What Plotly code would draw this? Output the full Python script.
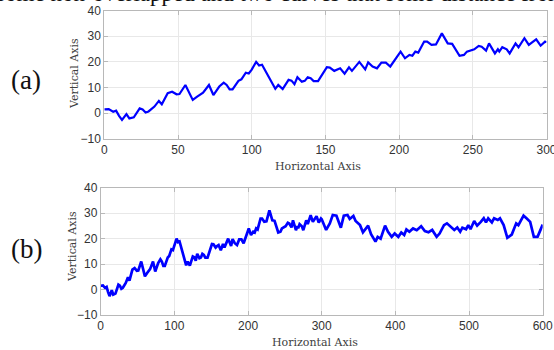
import plotly.graph_objects as go

# one random-walk-like series; panel (a) shows the first 300 samples, panel (b) all 600
x_vals = [0, 3, 6, 8, 10, 12, 15, 17, 20, 24, 26, 28, 30, 32, 34, 37, 39, 43, 45, 46, 49, 51,
          55, 58, 60, 63, 65, 67, 71, 74, 78, 81, 83, 85, 87, 91, 93, 96, 98, 100, 103, 105,
          107, 116, 118, 121, 125, 127, 129, 131, 134, 136, 138, 140, 142, 145, 151, 153, 156,
          158, 160, 163, 166, 168, 171, 173, 177, 179, 182, 185, 188, 191, 194, 197, 201, 204,
          207, 209, 211, 213, 217, 219, 222, 225, 229, 233, 236, 241, 244, 246, 248, 251, 254,
          256, 259, 261, 265, 267, 268, 270, 273, 275, 279, 281, 285, 288, 290, 293, 296, 299,
          300, 306, 311, 315, 320, 326, 330, 335, 338, 343, 346, 352, 356, 363, 367, 373, 376,
          380, 386, 390, 395, 399, 404, 408, 412, 415, 419, 424, 429, 435, 440, 445, 450, 453,
          456, 460, 466, 470, 475, 480, 484, 488, 491, 496, 499, 502, 507, 511, 516, 520, 523,
          526, 531, 534, 539, 542, 547, 552, 558, 564, 567, 574, 578, 583, 588, 593, 600]
y_vals = [1.5, 1.6, 0.6, 1.0, -1.0, -2.6, -0.3, -2.0, -1.6, 1.9, 1.5, 0.3, 0.7, 1.6, 2.6, 4.8,
          3.5, 7.8, 8.2, 8.4, 7.4, 7.5, 11.0, 7.5, 5.2, 6.5, 7.4, 8.0, 11.0, 7.1, 10.4, 11.9,
          11.0, 9.3, 9.3, 12.6, 13.2, 15.8, 15.5, 17.0, 20.0, 18.6, 18.9, 9.5, 11.0, 9.4, 13.0,
          12.7, 11.3, 14.0, 12.3, 12.6, 14.0, 13.6, 12.5, 12.5, 17.9, 17.8, 16.5, 17.1, 17.5,
          15.4, 17.9, 16.5, 18.8, 20.0, 17.1, 19.8, 18.2, 17.5, 19.7, 19.7, 18.2, 20.7, 24.0,
          21.4, 22.7, 22.4, 24.0, 23.6, 27.9, 27.9, 26.6, 26.8, 31.1, 27.2, 27.0, 22.4, 22.7,
          24.0, 24.4, 24.9, 26.2, 25.9, 24.4, 27.2, 23.3, 24.9, 24.0, 25.7, 24.9, 23.3, 27.2,
          25.7, 29.2, 26.6, 27.5, 28.8, 26.3, 27.9, 27.6, 23.4, 26.0, 29.3, 29.0, 24.3, 29.0,
          29.3, 27.7, 28.9, 26.9, 25.3, 22.5, 25.1, 21.7, 18.8, 20.7, 20.0, 25.1, 22.7, 20.7,
          22.0, 20.7, 22.4, 21.4, 23.6, 22.7, 24.0, 23.3, 24.9, 23.0, 22.5, 23.4, 22.0, 20.7,
          22.0, 25.3, 26.0, 24.7, 23.4, 24.4, 22.7, 24.3, 23.7, 25.3, 23.7, 26.9, 25.1, 26.6,
          28.0, 26.4, 28.0, 26.4, 28.0, 27.3, 28.0, 25.3, 20.3, 21.6, 26.0, 25.3, 29.0, 28.0,
          26.6, 20.7, 20.7, 25.5]

xa_top = [x for x in x_vals if x <= 300]
ya_top = y_vals[:len(xa_top)]

panel_labels = ["(a)", "(b)"]
x_title = "Horizontal Axis"
y_title = "Vertical Axis"
top_text = "some non-overlapped and two curves that some distance from"

blue = "#0000ff"
fig = go.Figure()
fig.add_trace(go.Scatter(x=xa_top, y=ya_top, mode="lines", line=dict(color=blue, width=2.2),
                         xaxis="x", yaxis="y", showlegend=False))
fig.add_trace(go.Scatter(x=x_vals, y=y_vals, mode="lines", line=dict(color=blue, width=2.7),
                         xaxis="x2", yaxis="y2", showlegend=False))
# clipped running text from the page above the figure (overlay axis spanning whole page)
fig.add_trace(go.Scatter(x=[281], y=[-5], mode="text", text=[top_text],
                         textposition="middle center", cliponaxis=True,
                         textfont=dict(family="Liberation Serif", size=23, color="#111111"),
                         xaxis="x3", yaxis="y3", showlegend=False, hoverinfo="skip"))

tickfont = dict(family="Liberation Sans, Arial", size=12, color="#333333")
ax_common = dict(showgrid=True, gridcolor="#e8e8e8", gridwidth=1, zeroline=False,
                 showline=True, linecolor="#b8b8b8", linewidth=1, mirror="ticks",
                 ticks="inside", ticklen=4, tickcolor="#b8b8b8", tickfont=tickfont,
                 ticklabeloverflow="allow")
hidden = dict(visible=False, showgrid=False, zeroline=False, fixedrange=True)

fig.update_layout(
    width=554, height=350,
    margin=dict(l=0, r=0, t=0, b=0, autoexpand=False),
    paper_bgcolor="white", plot_bgcolor="rgba(0,0,0,0)",
    xaxis=dict(domain=[0.1883, 0.9865], range=[0, 300.01], tickvals=[0, 50, 100, 150, 200, 250, 300],
               anchor="y", **ax_common),
    yaxis=dict(domain=[0.603, 0.970], range=[-10, 40], dtick=10, anchor="x", **ax_common),
    xaxis2=dict(domain=[0.1818, 0.9796], range=[0, 600], dtick=100, anchor="y2", **ax_common),
    yaxis2=dict(domain=[0.100, 0.4637], range=[-10, 40], dtick=10, anchor="x2", **ax_common),
    xaxis3=dict(domain=[0, 1], range=[0, 554], anchor="y3", **hidden),
    yaxis3=dict(domain=[0, 1], range=[350, 0], anchor="x3", **hidden),
)

serif_small = dict(family="DejaVu Serif, Liberation Serif", size=11, color="#404040")
serif_big = dict(family="Liberation Serif, DejaVu Serif", size=27, color="#111111")


def px_x(p):
    return p / 554


def px_y(p):
    return 1 - p / 350


ann = [
    dict(text=x_title, x=px_x(318), y=px_y(166), font=serif_small),
    dict(text=x_title, x=px_x(315), y=px_y(342), font=serif_small),
    dict(text=y_title, x=px_x(74), y=px_y(74), font=serif_small, textangle=-90),
    dict(text=y_title, x=px_x(72), y=px_y(247), font=serif_small, textangle=-90),
    dict(text=panel_labels[0], x=px_x(26), y=px_y(80), font=serif_big),
    dict(text=panel_labels[1], x=px_x(26), y=px_y(249), font=serif_big),
]
for a in ann:
    a.update(xref="paper", yref="paper", showarrow=False, xanchor="center", yanchor="middle")
fig.update_layout(annotations=ann)

fig.write_html("out.html", config={"displayModeBar": False},
               post_script="document.body.style.margin='0px';")
